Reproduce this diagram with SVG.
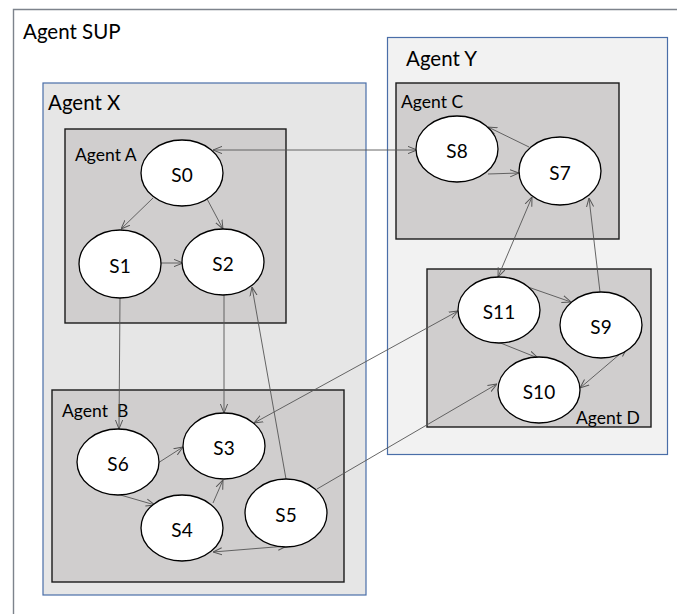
<svg xmlns="http://www.w3.org/2000/svg" width="677" height="614" viewBox="0 0 677 614">
<defs>
<marker id="ah" viewBox="0 0 10 10" refX="10" refY="5" markerWidth="9" markerHeight="9" markerUnits="userSpaceOnUse" orient="auto-start-reverse">
<path d="M0,1 L10,5 L0,9" fill="none" stroke="#555" stroke-width="1.1"/>
</marker>
<style>
.lbl{font-family:Lato,"Liberation Sans",sans-serif;fill:#000}
.big{font-size:20.5px}
.mid{font-size:17.5px}
.node ellipse{fill:#fff;stroke:#000;stroke-width:1.3}
.node text{font-family:Lato,"Liberation Sans",sans-serif;font-size:19px;fill:#000;text-anchor:middle;dominant-baseline:central}
.outer{fill:#e6e6e6;stroke:#4a6ea8;stroke-width:1.2}
.outerY{fill:#f2f2f2;stroke:#4a6ea8;stroke-width:1.2}
.inner{fill:#d0cece;stroke:#1a1a1a;stroke-width:1.4}
#edges line{stroke:#555;stroke-width:0.9;fill:none}
</style>
</defs>
<rect x="0" y="0" width="677" height="614" fill="#fff"/>
<g id="agent-sup">
<path d="M13.5,620 L13.5,9.5 L690,9.5" fill="none" stroke="#7d838c" stroke-width="1.4"/>
<text class="lbl big" x="23" y="39">Agent SUP</text>
</g>
<g id="agent-x">
<rect class="outer" x="43" y="83" width="323" height="512"/>
<text class="lbl big" x="48" y="110">Agent X</text>
</g>
<g id="agent-y">
<rect class="outerY" x="387.5" y="37.5" width="280" height="417"/>
<text class="lbl big" x="406" y="66">Agent Y</text>
</g>
<g id="agent-a">
<rect class="inner" x="65" y="129" width="221" height="194"/>
<text class="lbl mid" x="75" y="161">Agent A</text>
</g>
<g id="agent-b">
<rect class="inner" x="52" y="390" width="292" height="192"/>
<text class="lbl mid" x="62" y="417" xml:space="preserve">Agent  B</text>
</g>
<g id="agent-c">
<rect class="inner" x="396" y="83" width="223" height="156"/>
<text class="lbl mid" x="401" y="108">Agent C</text>
</g>
<g id="agent-d">
<rect class="inner" x="427" y="269" width="224" height="158"/>
<text class="lbl mid" x="576" y="424">Agent D</text>
</g>
<g id="edges">
<line x1="213" y1="150" x2="417" y2="150" marker-start="url(#ah)" marker-end="url(#ah)"/>
<line x1="153" y1="198" x2="121" y2="229" marker-end="url(#ah)"/>
<line x1="206" y1="197" x2="223" y2="229" marker-end="url(#ah)"/>
<line x1="161" y1="263" x2="183" y2="263" marker-end="url(#ah)"/>
<line x1="120" y1="297" x2="119" y2="429" marker-end="url(#ah)"/>
<line x1="224" y1="295" x2="224" y2="413" marker-end="url(#ah)"/>
<line x1="286" y1="479" x2="252" y2="287" marker-end="url(#ah)"/>
<line x1="254" y1="423" x2="458" y2="311" marker-start="url(#ah)" marker-end="url(#ah)"/>
<line x1="317" y1="489" x2="497" y2="384" marker-end="url(#ah)"/>
<line x1="158" y1="463" x2="183" y2="447" marker-end="url(#ah)"/>
<line x1="117" y1="494" x2="155" y2="505" marker-end="url(#ah)"/>
<line x1="213" y1="503" x2="223" y2="480" marker-end="url(#ah)"/>
<line x1="213" y1="552" x2="287" y2="546" marker-start="url(#ah)" marker-end="url(#ah)"/>
<line x1="488" y1="174" x2="519" y2="173" marker-end="url(#ah)"/>
<line x1="529" y1="147" x2="488" y2="127" marker-end="url(#ah)"/>
<line x1="532" y1="197" x2="498" y2="277" marker-start="url(#ah)" marker-end="url(#ah)"/>
<line x1="600" y1="292" x2="589" y2="198" marker-end="url(#ah)"/>
<line x1="528" y1="287" x2="571" y2="302" marker-end="url(#ah)"/>
<line x1="498" y1="342" x2="538" y2="358" marker-end="url(#ah)"/>
<line x1="627" y1="348" x2="580" y2="388" marker-start="url(#ah)" marker-end="url(#ah)"/>
</g>
<g id="S0" class="node"><ellipse cx="182" cy="173" rx="41" ry="33"/><text x="182" y="174">S0</text></g>
<g id="S1" class="node"><ellipse cx="120" cy="264" rx="41" ry="34"/><text x="120" y="265">S1</text></g>
<g id="S2" class="node"><ellipse cx="223" cy="262" rx="41" ry="33"/><text x="223" y="263">S2</text></g>
<g id="S3" class="node"><ellipse cx="224" cy="446" rx="41" ry="33"/><text x="224" y="447">S3</text></g>
<g id="S4" class="node"><ellipse cx="182" cy="528" rx="41" ry="33"/><text x="182" y="529">S4</text></g>
<g id="S5" class="node"><ellipse cx="286" cy="513" rx="41" ry="34"/><text x="286" y="514">S5</text></g>
<g id="S6" class="node"><ellipse cx="118" cy="462" rx="41" ry="33"/><text x="118" y="463">S6</text></g>
<g id="S7" class="node"><ellipse cx="560" cy="171" rx="41" ry="34"/><text x="560" y="172">S7</text></g>
<g id="S8" class="node"><ellipse cx="457" cy="149" rx="41" ry="33"/><text x="457" y="150">S8</text></g>
<g id="S9" class="node"><ellipse cx="601" cy="325" rx="41" ry="33"/><text x="601" y="326">S9</text></g>
<g id="S10" class="node"><ellipse cx="539" cy="390" rx="41" ry="33"/><text x="539" y="391">S10</text></g>
<g id="S11" class="node"><ellipse cx="499" cy="310" rx="41" ry="33"/><text x="499" y="311">S11</text></g>
</svg>
